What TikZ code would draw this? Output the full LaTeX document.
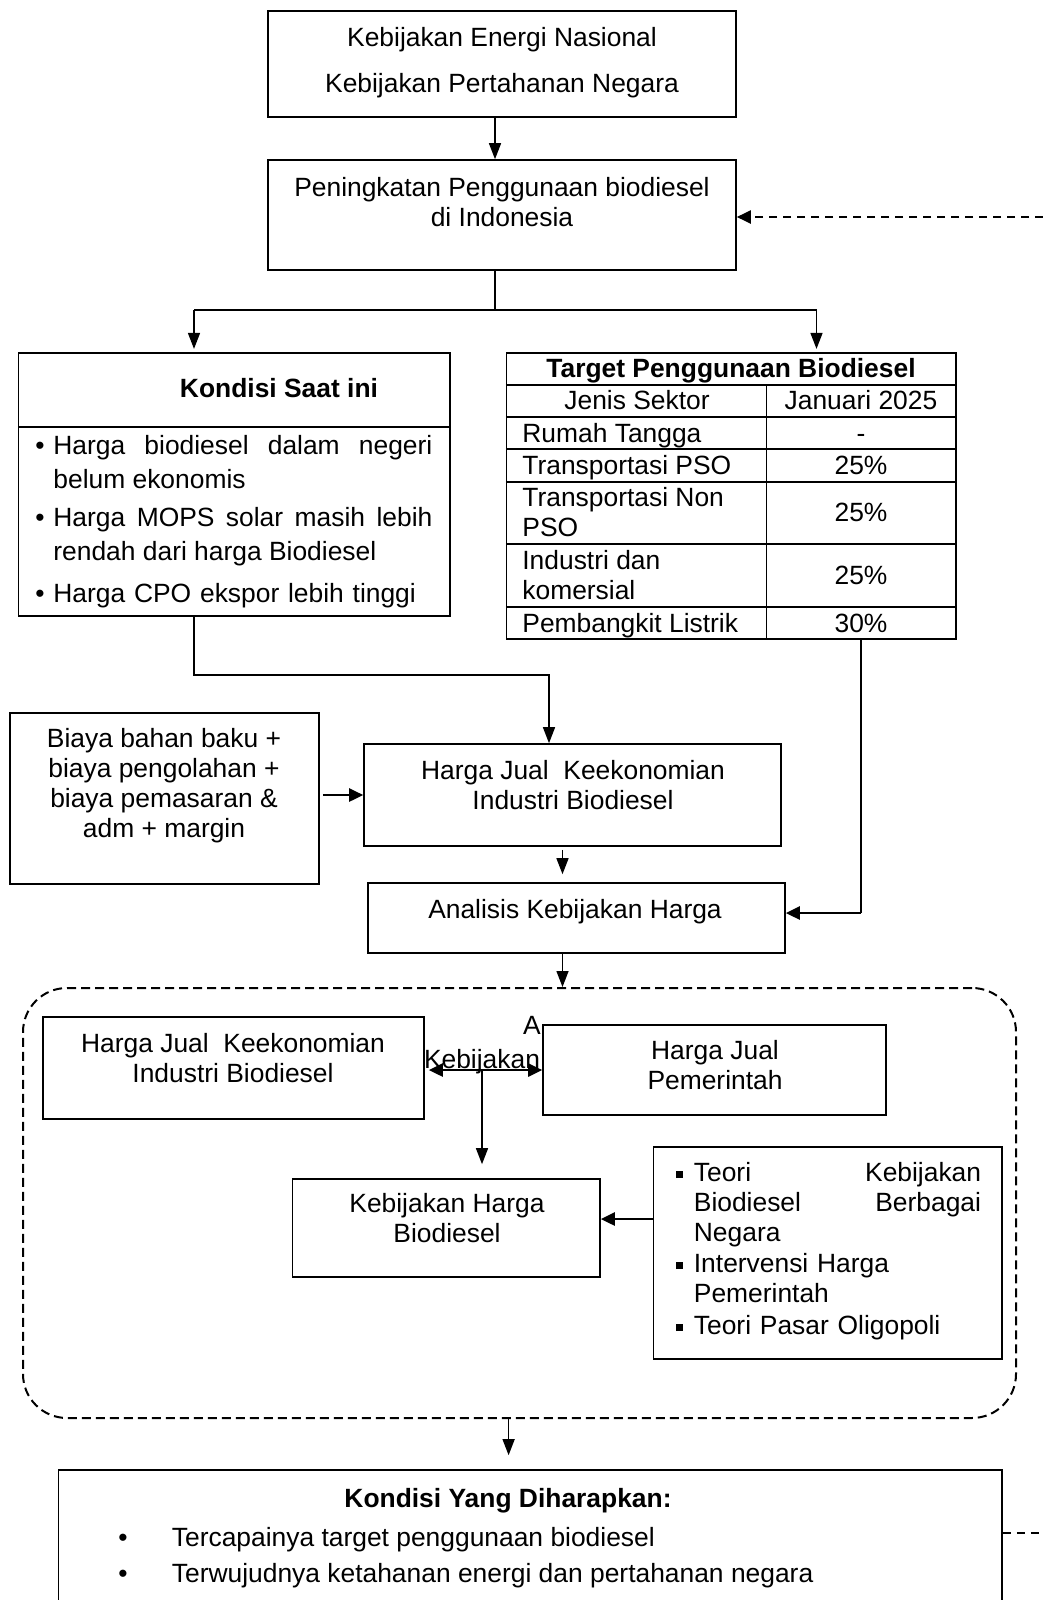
\documentclass[tikz,border=0pt]{standalone}
\usepackage{fontspec}
\setmainfont{Liberation Sans}
\usetikzlibrary{arrows.meta,fit,calc}
\newcommand\fsz{\fontsize{13.2}{15}\selectfont\hyphenpenalty=10000\relax\exhyphenpenalty=10000\relax}
\newcommand\fszk{\fontsize{13.2}{16.75}\selectfont\hyphenpenalty=10000\relax\exhyphenpenalty=10000\relax}
\begin{document}
\begin{tikzpicture}[x=0.5pt,y=-0.5pt,
  box/.style={draw, line width=0.8pt, inner sep=0pt},
  txt/.style={inner sep=0pt, font=\fsz, align=center},
  btxt/.style={inner sep=0pt, font=\fsz\bfseries, align=center},
  ln/.style={line width=0.7pt},
  tip/.style={-{Triangle[length=8pt,width=6pt]}},
  arr/.style={line width=0.7pt, tip},
  tarr/.style={line width=1.3pt, -{Triangle[length=7pt,width=6.5pt]}},
  darr/.style={line width=1.3pt, {Triangle[length=7pt,width=6.5pt]}-{Triangle[length=7pt,width=6.5pt]}},
  dashln/.style={line width=1pt, dash pattern=on 4pt off 3pt},
]
\useasboundingbox (0,0) rectangle (1043,1600);
\fill[white] (0,0) rectangle (1043,1600);
\clip (0,0) rectangle (1043,1600);

% top boxes
\node[box, fit={(268,11) (736,117)}] (top) {};
\node[txt, anchor=north] (toptxt) at (502,27.4) {Kebijakan Energi Nasional\\[8pt]Kebijakan Pertahanan Negara};
\node[box, fit={(268,160) (736,270)}] (box2) {};
\node[txt, anchor=north] (box2txt) at (502,177.4) {Peningkatan Penggunaan biodiesel\\di Indonesia};

% Kondisi saat ini
\node[box, fit={(18.6,352.7) (450,616)}] (kondisi) {};
\coordinate (kdiv) at (0,427);
\draw[line width=0.8pt] (kondisi.west |- kdiv) -- (kondisi.east |- kdiv);
\node[btxt, anchor=base] (ktitle) at (279,397.5) {Kondisi Saat ini};
\node[txt, anchor=base] (kb1) at (40,454.5) {•};
\node[txt, anchor=base] (kb2) at (40,526.5) {•};
\node[txt, anchor=base] (kb3) at (40,602.5) {•};
\node[inner sep=0pt, anchor=north west, text width=189.5pt, align=justify, font=\fszk] (ki1) at (53,435.4) {Harga biodiesel dalam negeri belum ekonomis};
\node[inner sep=0pt, anchor=north west, text width=189.5pt, align=justify, font=\fszk] (ki2) at (53,507.4) {Harga MOPS solar masih lebih rendah dari harga Biodiesel};
\node[inner sep=0pt, anchor=north west, text width=189.5pt, align=left, font=\fsz] (ki3) at (53,583.4) {Harga CPO ekspor lebih tinggi};

% table
\node[box, fit={(506.6,352.7) (956,639)}] (table) {};
\foreach \yy in {385,417,449,482,544,607} {
  \draw[line width=0.8pt] (table.west |- 0,\yy) -- (table.east |- 0,\yy);
}
\coordinate (tcol) at (766.6,385);
\draw[line width=0.8pt] (tcol) -- (tcol |- table.south);
\node[btxt, anchor=base] (ttitle) at (731,377.5) {Target Penggunaan Biodiesel};
\node[txt, anchor=base] (th1) at (637,409.5) {Jenis Sektor};
\node[txt, anchor=base] (th2) at (861,409.5) {Januari 2025};
\node[txt, anchor=base west] (r1) at (522,442.5) {Rumah Tangga};
\node[txt, anchor=base] (v1) at (861,442.5) {-};
\node[txt, anchor=base west] (r2) at (522,474.5) {Transportasi PSO};
\node[txt, anchor=base] (v2) at (861,474.5) {25\%};
\node[txt, anchor=north west, align=left] (r3) at (522,487.4) {Transportasi Non\\PSO};
\node[txt, anchor=base] (v3) at (861,521.5) {25\%};
\node[txt, anchor=north west, align=left] (r4) at (522,550.4) {Industri dan\\komersial};
\node[txt, anchor=base] (v4) at (861,584.5) {25\%};
\node[txt, anchor=base west] (r5) at (522,632.5) {Pembangkit Listrik};
\node[txt, anchor=base] (v5) at (861,632.5) {30\%};

% middle boxes
\node[box, fit={(10,713) (319,884)}] (biaya) {};
\node[txt, anchor=north] (biayatxt) at (164,728.4) {Biaya bahan baku +\\biaya pengolahan +\\biaya pemasaran \&\\adm + margin};
\node[box, fit={(364,744) (781,846)}] (hj) {};
\node[txt, anchor=north] (hjtxt) at (573,760.4) {Harga Jual\ \ Keekonomian\\Industri Biodiesel};
\node[box, fit={(368,883) (785,953)}] (analisis) {};
\node[txt, anchor=base] (antxt) at (575,918.5) {Analisis Kebijakan Harga};

% dashed region
\node[draw, line width=1pt, dash pattern=on 4.5pt off 2.5pt, rounded corners=22pt, inner sep=0pt, fit={(23,988) (1016,1418)}] (dbox) {};
\node[box, fit={(43,1017) (424,1119)}] (boxA) {};
\node[txt, anchor=north] (boxAtxt) at (233,1033.4) {Harga Jual\ \ Keekonomian\\Industri Biodiesel};
\node[box, fit={(543,1025) (886,1115)}] (boxB) {};
\node[txt, anchor=north] (boxBtxt) at (715,1040.4) {Harga Jual\\Pemerintah};
\node[box, fit={(292.5,1179) (600,1277)}] (boxC) {};
\node[txt, anchor=north] (boxCtxt) at (447,1193.4) {Kebijakan Harga\\Biodiesel};
\node[box, fit={(653.6,1147) (1002,1359)}] (boxD) {};
\node[txt, anchor=base] (lblA) at (532,1034.5) {A};
\node[txt, anchor=base] (lblK) at (482,1068.5) {Kebijakan};
\node[inner sep=0pt, anchor=base] (sq1) at (679.5,1181.5) {\rule[1.7pt]{3.3pt}{3.5pt}};
\node[inner sep=0pt, anchor=base] (sq2) at (679.5,1272.5) {\rule[1.7pt]{3.3pt}{3.5pt}};
\node[inner sep=0pt, anchor=base] (sq3) at (679.5,1334.5) {\rule[1.7pt]{3.3pt}{3.5pt}};
\node[inner sep=0pt, anchor=north west, text width=143.6pt, align=justify, font=\fsz] (d1) at (693.5,1162.4) {Teori Kebijakan Biodiesel Berbagai Negara};
\node[inner sep=0pt, anchor=north west, text width=143.6pt, align=left, font=\fsz] (d2) at (693.5,1253.4) {Intervensi Harga Pemerintah};
\node[inner sep=0pt, anchor=north west, text width=143.6pt, align=left, font=\fsz] (d3) at (693.5,1315.4) {Teori Pasar Oligopoli};

% bottom box
\node[box, fit={(58.5,1470) (1002,1640)}] (bottom) {};
\node[btxt, anchor=base] (bttl) at (508,1507.5) {Kondisi Yang Diharapkan:};
\node[txt, anchor=base] (bb1) at (123,1546.5) {•};
\node[txt, anchor=base] (bb2) at (123,1582.5) {•};
\node[txt, anchor=base west] (bt1) at (171.5,1546.5) {Tercapainya target penggunaan biodiesel};
\node[txt, anchor=base west] (bt2) at (171.5,1582.5) {Terwujudnya ketahanan energi dan pertahanan negara};

% connectors
\coordinate (c0) at (495,0);
\draw[arr] (c0 |- top.south) -- (c0 |- box2.north);
\coordinate (s1) at (194,310);
\coordinate (s2) at (816.5,310);
\draw[ln] (c0 |- box2.south) |- (s1);
\draw[ln] (c0 |- box2.south) |- (s2);
\draw[arr] (s1) -- ($(s1 |- kondisi.north)+(0,-3)$);
\draw[arr] (s2) -- ($(s2 |- table.north)+(0,-3)$);

\coordinate (k1) at (194,675);
\coordinate (k2) at (549,675);
\draw[arr] (k1 |- kondisi.south) -- (k1) -- (k2) -- (k2 |- hj.north);

\coordinate (t1) at (861,913);
\draw[ln] (t1 |- table.south) -- (t1);
\draw[tarr] (t1) -- (t1 -| analisis.east);

\draw[tarr] ($(hj.west -| biaya.east)+(3,0)$) -- (hj.west);

\coordinate (a1) at (562.5,0);
\draw[arr] ($(a1 |- hj.south)+(0,3)$) -- ($(a1 |- analisis.north)+(0,-8)$);
\draw[arr] (a1 |- analisis.south) -- (a1 |- dbox.north);

\coordinate (m) at (482,1070);
\draw[darr] ($(m -| boxA.east)+(4,0)$) -- (m -| boxB.west);
\draw[arr] (m) -- ($(m |- boxC.north)+(0,-14)$);

\coordinate (q) at (620,1219);
\draw[tarr] (q -| boxD.west) -- (q -| boxC.east);

\coordinate (e1) at (508.6,0);
\draw[arr] (e1 |- dbox.south) -- ($(e1 |- bottom.north)+(0,-14)$);

\coordinate (fb1) at (1043,217);
\draw[dashln, -{Triangle[length=7pt,width=6.5pt]}] (fb1) -- (fb1 -| box2.east);
\coordinate (fb2) at (1043,1533);
\draw[dashln] (fb2 -| bottom.east) -- (fb2);
\end{tikzpicture}
\end{document}
